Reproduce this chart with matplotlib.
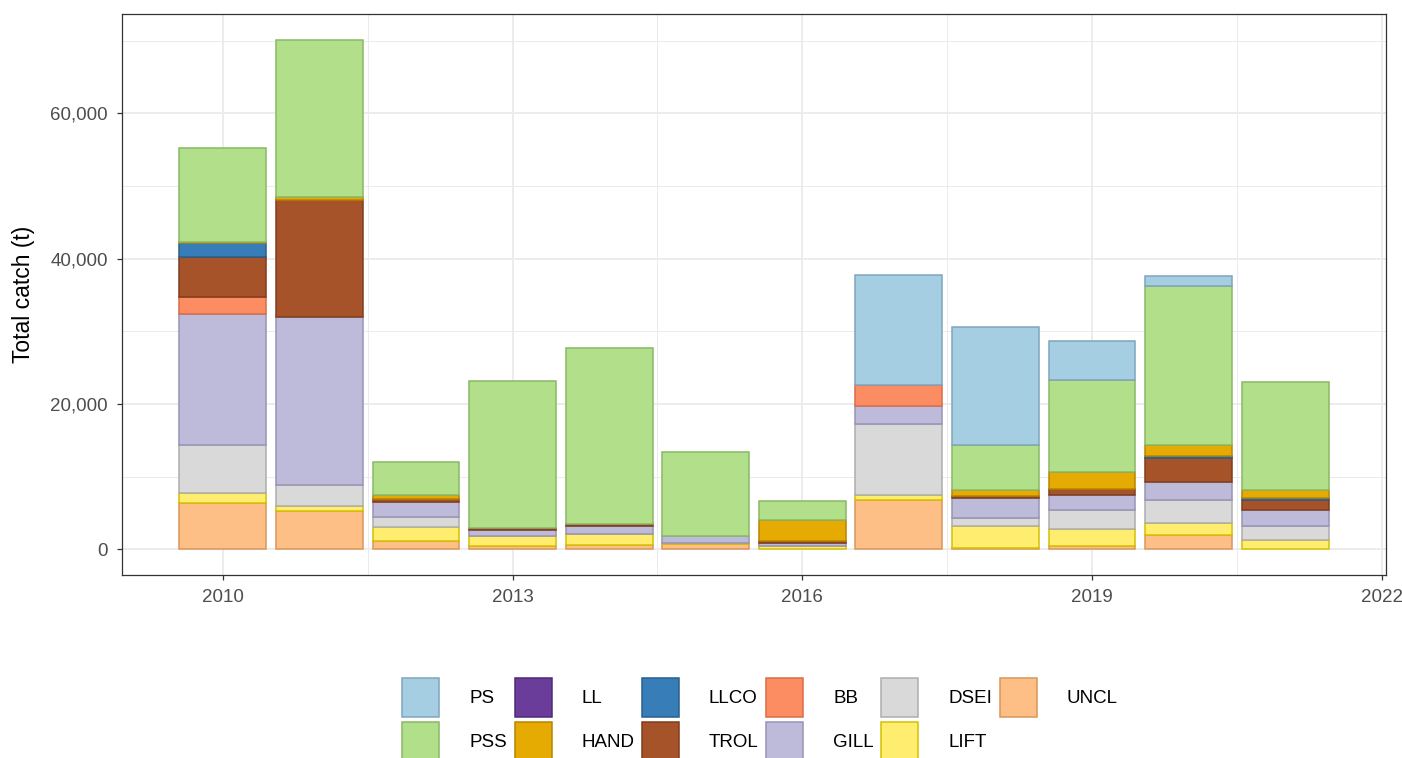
import numpy as np
import matplotlib
matplotlib.use("Agg")
import matplotlib.pyplot as plt
from matplotlib.patches import Patch
from matplotlib.ticker import FuncFormatter

plt.rcParams['font.family'] = ['Liberation Sans', 'DejaVu Sans']

years = [2010, 2011, 2012, 2013, 2014, 2015, 2016, 2017, 2018, 2019, 2020, 2021]

# catch by gear (t)
PS = [0, 0, 0, 0, 0, 0, 0, 15200, 16350, 5270, 1370, 0]
PSS = [12900, 21650, 4440, 20200, 24200, 11540, 2610, 0, 6180, 12700, 21850, 14800]
LL = [0, 0, 0, 0, 0, 0, 0, 0, 0, 0, 0, 0]
HAND = [200, 400, 550, 0, 0, 0, 2980, 0, 820, 2340, 1600, 1140]
LLCO = [1850, 0, 0, 0, 0, 0, 0, 0, 0, 0, 270, 330]
TROL = [5600, 16050, 500, 230, 270, 0, 230, 0, 270, 870, 3200, 1370]
BB = [2250, 0, 0, 0, 0, 0, 0, 2880, 0, 0, 0, 0]
GILL = [18100, 23100, 2060, 920, 1140, 920, 460, 2420, 2750, 1960, 2570, 2200]
DSEI = [6550, 2980, 1370, 0, 0, 0, 0, 9750, 1100, 2660, 3100, 1960]
LIFT = [1400, 700, 1920, 1370, 1600, 230, 450, 650, 3020, 2380, 1600, 1240]
UNCL = [6400, 5250, 1140, 450, 550, 690, 0, 6870, 180, 460, 2060, 0]

gears = ["PS", "PSS", "LL", "HAND", "LLCO", "TROL", "BB", "GILL", "DSEI", "LIFT", "UNCL"]
series = [PS, PSS, LL, HAND, LLCO, TROL, BB, GILL, DSEI, LIFT, UNCL]

fills = {"PS": "#a6cee3", "PSS": "#b2df8a", "LL": "#6a3d9a", "HAND": "#e6ab02",
         "LLCO": "#377eb8", "TROL": "#a6532a", "BB": "#fc8d62", "GILL": "#bebada",
         "DSEI": "#d9d9d9", "LIFT": "#ffed6f", "UNCL": "#fdbf85"}
edges = {"PS": "#7fa5bd", "PSS": "#8ab866", "LL": "#4f2a78", "HAND": "#b88500",
         "LLCO": "#2a5f8c", "TROL": "#7f3d1e", "BB": "#d96d45", "GILL": "#9893b5",
         "DSEI": "#adadad", "LIFT": "#d4c000", "UNCL": "#d9965a"}

fig = plt.figure(figsize=(14.02, 7.58), dpi=100)
ax = fig.add_axes([122 / 1402, 1 - 575 / 758, (1386 - 122) / 1402, (575 - 14) / 758])

x = np.array(years)
bottom = np.zeros(len(years))
# stack from the bottom (UNCL) up to PS
for g, vals in zip(gears[::-1], series[::-1]):
    v = np.array(vals, dtype=float)
    m = v > 0
    if m.any():
        ax.bar(x[m], v[m], width=0.9, bottom=bottom[m], color=fills[g],
               edgecolor=edges[g], linewidth=1.1, zorder=3)
    bottom += v

ax.set_xlim(2008.955, 2022.045)
ax.set_ylim(-3510, 73660)
ax.set_xticks([2010, 2013, 2016, 2019, 2022])
ax.set_xticks([2011.5, 2014.5, 2017.5, 2020.5], minor=True)
ax.set_yticks([0, 20000, 40000, 60000])
ax.set_yticks([10000, 30000, 50000, 70000], minor=True)
ax.yaxis.set_major_formatter(FuncFormatter(lambda v, p: f"{int(v):,}"))
ax.grid(which="major", color="#ebebeb", linewidth=1.3, zorder=0)
ax.grid(which="minor", color="#ebebeb", linewidth=0.7, zorder=0)
ax.tick_params(which="major", length=3.5, width=0.9, color="#333333",
               labelsize=13.5, labelcolor="#4d4d4d", pad=6.5)
ax.tick_params(which="minor", length=0)
for s in ax.spines.values():
    s.set_color("#333333")
    s.set_linewidth(0.9)
ax.set_ylabel("Total catch (t)", fontsize=16.5)
ax.yaxis.set_label_coords(-0.0688, 0.5)

handles = [Patch(facecolor=fills[g], edgecolor=edges[g], linewidth=1.1) for g in gears]
fig.legend(handles, gears, loc="upper center", bbox_to_anchor=(760 / 1402, 1 - 669 / 758),
           ncol=6, frameon=False, fontsize=13.5, handlelength=1.97, handleheight=2.83,
           handletextpad=1.6, columnspacing=0.4, labelspacing=0.22, borderpad=0)

fig.savefig("out.png", dpi=100)
